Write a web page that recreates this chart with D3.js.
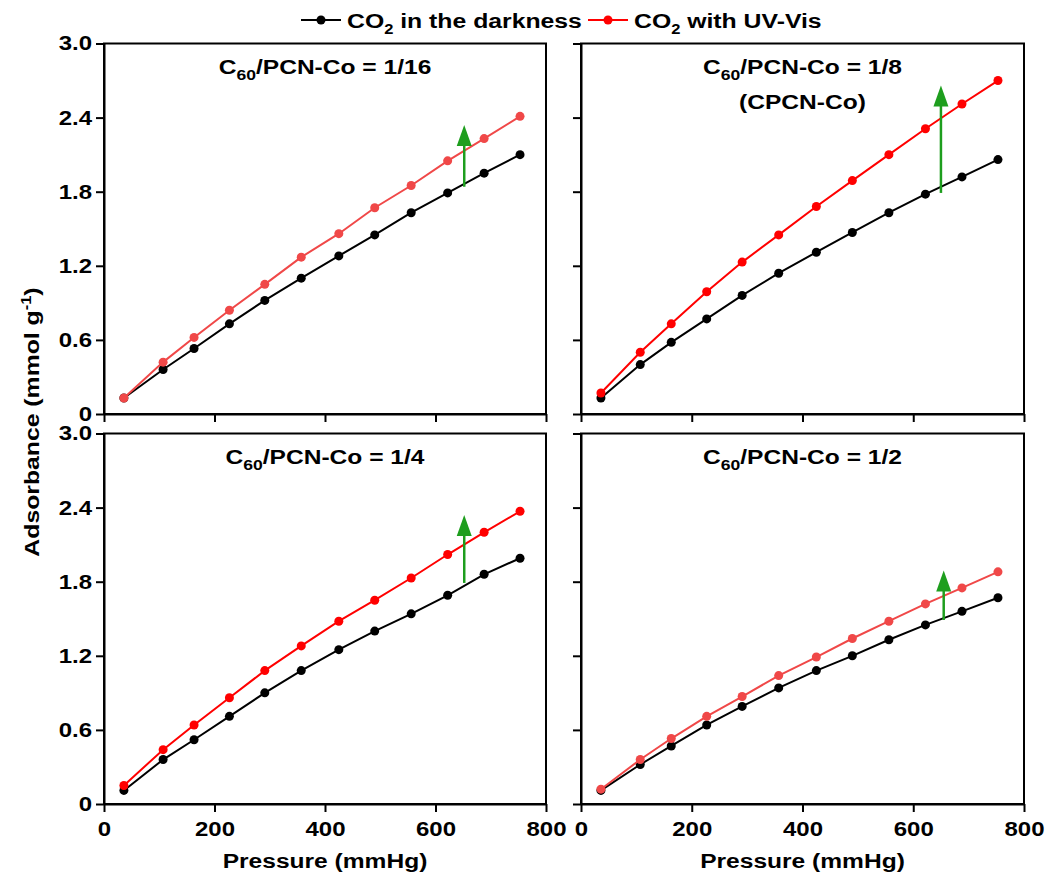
<!DOCTYPE html>
<html><head>
<meta charset="utf-8">
<title>CO2 adsorption</title>
<script src="https://cdn.jsdelivr.net/npm/d3@7"></script>
<style>
  body { margin: 0; background: #fff; }
  text { font-family: Arial, "Liberation Sans", sans-serif; font-weight: bold; fill: #000; }
</style>
</head>
<body>
<svg id="chart" width="1047" height="874"></svg>
<script>
// pressure points (mmHg), shared by all four panels
const pressure = [36, 107, 163, 227, 291, 357, 425, 490, 556, 622, 688, 753];

// CO2 uptake in the darkness (mmol/g)
const dark_116 = [0.13, 0.36, 0.53, 0.73, 0.92, 1.10, 1.28, 1.45, 1.63, 1.79, 1.95, 2.10];
const dark_18  = [0.13, 0.40, 0.58, 0.77, 0.96, 1.14, 1.31, 1.47, 1.63, 1.78, 1.92, 2.06];
const dark_14  = [0.11, 0.36, 0.52, 0.71, 0.90, 1.08, 1.25, 1.40, 1.54, 1.69, 1.86, 1.99];
const dark_12  = [0.11, 0.32, 0.47, 0.64, 0.79, 0.94, 1.08, 1.20, 1.33, 1.45, 1.56, 1.67];

// CO2 uptake with UV-Vis (mmol/g)
const uv_116 = [0.13, 0.42, 0.62, 0.84, 1.05, 1.27, 1.46, 1.67, 1.85, 2.05, 2.23, 2.41];
const uv_18  = [0.17, 0.50, 0.73, 0.99, 1.23, 1.45, 1.68, 1.89, 2.10, 2.31, 2.51, 2.70];
const uv_14  = [0.15, 0.44, 0.64, 0.86, 1.08, 1.28, 1.48, 1.65, 1.83, 2.02, 2.20, 2.37];
const uv_12  = [0.12, 0.36, 0.53, 0.71, 0.87, 1.04, 1.19, 1.34, 1.48, 1.62, 1.75, 1.88];

const ratios = ["1/16", "1/8", "1/4", "1/2"];
const subtitles = ["", "(CPCN-Co)", "", ""];

// green arrows: pressure, from, to
const arrowP    = [652, 650, 652, 655];
const arrowFrom = [1.84, 1.79, 1.79, 1.49];
const arrowTo   = [2.34, 2.66, 2.34, 1.89];

const yTicks = [0, 0.6, 1.2, 1.8, 2.4, 3.0];
const xTicks = [0, 200, 400, 600, 800];

const legendNames = ["in the darkness", "with UV-Vis"];

let svg = d3.select("svg#chart");

// the reference lettering is a bit wider than Arial, so stretch it sideways
function stretch(sel, k) {
    sel.each(function() {
        let t = d3.select(this);
        let x = +t.attr("x") || 0, y = +t.attr("y") || 0;
        t.attr("x", null).attr("y", null)
            .attr("transform", "translate(" + x + "," + y + ") scale(" + k + ",1)");
    });
}

// panel boxes in px
let cols = [[104, 546], [581, 1024]];
let rows = [[414, 43.5], [804, 433.5]];
let redColors = ["#f04848", "#ff0000", "#ff0000", "#f04848"];

let darkSets = [dark_116, dark_18, dark_14, dark_12];
let uvSets = [uv_116, uv_18, uv_14, uv_12];

ratios.forEach((ratio, i) => {
    let col = i % 2, row = Math.floor(i / 2);
    let x = d3.scaleLinear().domain([0, 800]).range(cols[col]);
    let y = d3.scaleLinear().domain([0, 3.0]).range(rows[row]);
    let g = svg.append("g");

    // frame
    g.append("rect")
        .attr("x", cols[col][0]).attr("y", rows[row][1])
        .attr("width", cols[col][1] - cols[col][0])
        .attr("height", rows[row][0] - rows[row][1])
        .attr("fill", "none").attr("stroke", "#000").attr("stroke-width", 2);

    let yAxis = d3.axisLeft(y).tickValues(yTicks).tickSize(8).tickSizeOuter(0).tickPadding(4)
        .tickFormat(d => col == 0 ? (d == 0 ? "0" : d3.format(".1f")(d)) : "");
    let xAxis = d3.axisBottom(x).tickValues(xTicks).tickSize(8).tickSizeOuter(0).tickPadding(10)
        .tickFormat(d => row == 1 ? d : "");

    let ya = g.append("g").attr("transform", "translate(" + cols[col][0] + ",0)").call(yAxis);
    let xa = g.append("g").attr("transform", "translate(0," + rows[row][0] + ")").call(xAxis);
    [ya, xa].forEach(a => {
        a.select(".domain").attr("stroke-width", 2);
        a.selectAll(".tick line").attr("stroke-width", 2);
        a.selectAll(".tick text").style("font-size", "20px").attr("fill", "#000");
        stretch(a.selectAll(".tick text"), 1.2);
    });

    let line = d3.line().x((d, j) => x(pressure[j])).y(d => y(d));

    [[darkSets[i], "#000"], [uvSets[i], redColors[i]]].forEach(([vals, c]) => {
        g.append("path").datum(vals)
            .attr("d", line).attr("fill", "none")
            .attr("stroke", c).attr("stroke-width", 2);
        g.selectAll(null).data(vals).enter().append("circle")
            .attr("cx", (d, j) => x(pressure[j]))
            .attr("cy", d => y(d))
            .attr("r", 4.5).attr("fill", c);
    });

    // arrow
    let ax = x(arrowP[i]), y0 = y(arrowFrom[i]), y1 = y(arrowTo[i]);
    g.append("line").attr("x1", ax).attr("x2", ax).attr("y1", y0).attr("y2", y1 + 14)
        .attr("stroke", "#1e9e1e").attr("stroke-width", 2.5);
    g.append("path")
        .attr("d", "M" + ax + "," + y1 + "L" + (ax + 7.5) + "," + (y1 + 21) + "L" + (ax - 7.5) + "," + (y1 + 21) + "Z")
        .attr("fill", "#1e9e1e");

    // title
    let cx = (cols[col][0] + cols[col][1]) / 2;
    let t = g.append("text").attr("x", cx).attr("y", rows[row][1] + 30)
        .attr("text-anchor", "middle").style("font-size", "21px");
    t.append("tspan").text("C");
    t.append("tspan").attr("dy", 6).style("font-size", "15px").text("60");
    t.append("tspan").attr("dy", -6).text("/PCN-Co = " + ratio);
    stretch(t, 1.17);
    if (subtitles[i]) {
        let st = g.append("text").attr("x", cx).attr("y", rows[row][1] + 65)
            .attr("text-anchor", "middle").style("font-size", "21px").text(subtitles[i]);
        stretch(st, 1.17);
    }

    if (row == 1) {
        let xt = g.append("text").attr("x", cx).attr("y", 868)
            .attr("text-anchor", "middle").style("font-size", "21px").text("Pressure (mmHg)");
        stretch(xt, 1.17);
    }
});

// y axis title
let yt = svg.append("text")
    .attr("transform", "translate(39,422) rotate(-90) scale(1.18,1)")
    .attr("text-anchor", "middle").style("font-size", "21px");
yt.append("tspan").text("Adsorbance (mmol g");
yt.append("tspan").attr("dy", -8).style("font-size", "14px").text("-1");
yt.append("tspan").attr("dy", 8).text(")");

// legend
let legendX = [301, 588];
let legendC = ["#000", "#ff0000"];
legendNames.forEach((name, i) => {
    let lg = svg.append("g").attr("transform", "translate(" + legendX[i] + ",20)");
    lg.append("line").attr("x1", 0).attr("x2", 40).attr("stroke", legendC[i]).attr("stroke-width", 2);
    lg.append("circle").attr("cx", 20).attr("r", 4.5).attr("fill", legendC[i]);
    let lt = lg.append("text").attr("x", 46).attr("y", 8).style("font-size", "21px");
    lt.append("tspan").text("CO");
    lt.append("tspan").attr("dy", 6).style("font-size", "14px").text("2");
    lt.append("tspan").attr("dy", -6).text(" " + name);
    stretch(lt, 1.18);
});
</script>
</body>
</html>
